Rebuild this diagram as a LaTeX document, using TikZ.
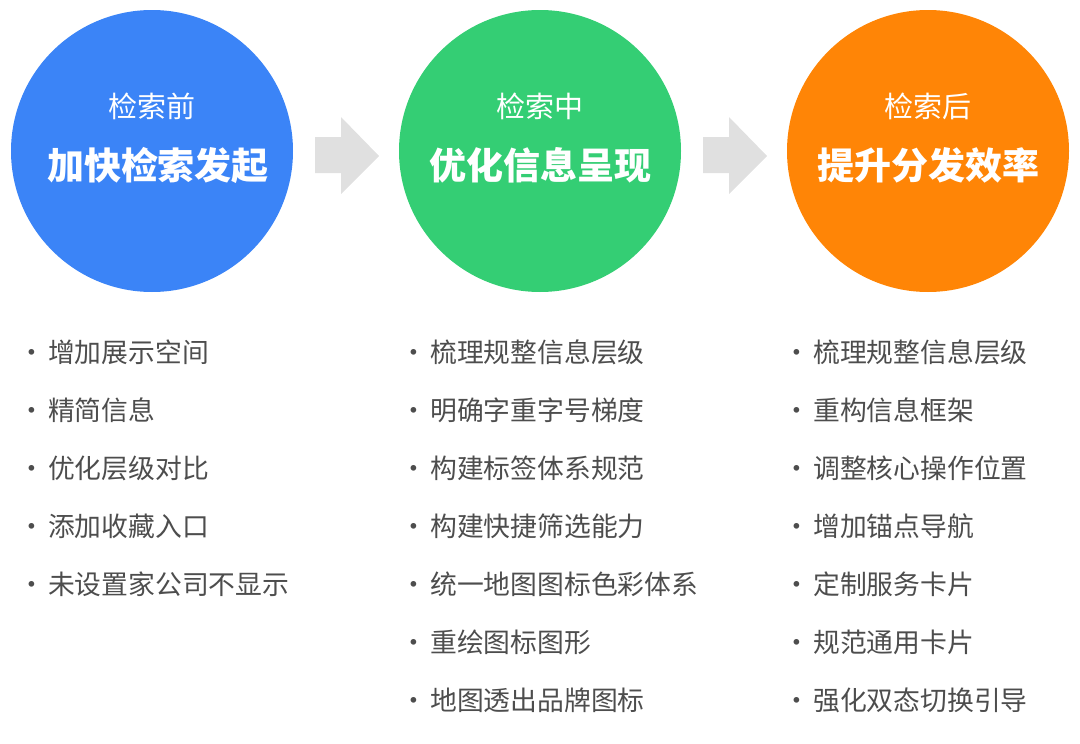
\documentclass[tikz,border=0pt]{standalone}
\usepackage{fontspec}
\setmainfont{Noto Sans CJK SC}
\usetikzlibrary{positioning}

\definecolor{stageblue}{HTML}{3B84F7}
\definecolor{stagegreen}{HTML}{34CE74}
\definecolor{stageorange}{HTML}{FF8506}
\definecolor{arrowgray}{HTML}{E0E0E0}
\definecolor{itemgray}{HTML}{4D4D4D}

\tikzset{
  stage/.style={circle, minimum size=282pt, inner sep=0pt},
  phase/.style={text=white, font=\fontsize{29}{29}\selectfont, inner sep=0pt},
  goal/.style={text=white, font=\fontsize{37}{37}\selectfont\bfseries, inner sep=0pt},
  item/.style={anchor=west, text=itemgray, font=\fontsize{26.8}{27}\selectfont, inner sep=0pt},
  flow/.style={fill=arrowgray, draw=none}
}
\newcommand{\dotitem}[1]{\makebox[32pt][c]{·}#1}

\begin{document}
\begin{tikzpicture}[x=1pt,y=-1pt]
  \useasboundingbox (0,0) rectangle (1080,744);

  % the three stages
  \node[stage, fill=stageblue] (before) at (152,151) {};
  \node[stage, fill=stagegreen] (during) at (540,151) {};
  \node[stage, fill=stageorange] (after) at (928,151) {};

  \node[phase] (before-t) at (152,106) {检索前};
  \node[goal] (before-g) at (158,165) {加快检索发起};
  \node[phase] (during-t) at (540,106) {检索中};
  \node[goal] (during-g) at (540,165) {优化信息呈现};
  \node[phase] (after-t) at (928,106) {检索后};
  \node[goal] (after-g) at (928,165) {提升分发效率};

  % arrows between stages
  \fill[flow] (315,137) -- (341,137) -- (341,117) -- (379,156) -- (341,194) -- (341,173) -- (315,173) -- cycle;
  \fill[flow] (703,137) -- (729,137) -- (729,117) -- (767,156) -- (729,194) -- (729,173) -- (703,173) -- cycle;

  % before
  \node[item] (b1) at (16,352) {\dotitem{增加展示空间}};
  \node[item] (b2) at (16,410) {\dotitem{精简信息}};
  \node[item] (b3) at (16,468) {\dotitem{优化层级对比}};
  \node[item] (b4) at (16,526) {\dotitem{添加收藏入口}};
  \node[item] (b5) at (16,584) {\dotitem{未设置家公司不显示}};

  % during
  \node[item] (d1) at (398,352) {\dotitem{梳理规整信息层级}};
  \node[item] (d2) at (398,410) {\dotitem{明确字重字号梯度}};
  \node[item] (d3) at (398,468) {\dotitem{构建标签体系规范}};
  \node[item] (d4) at (398,526) {\dotitem{构建快捷筛选能力}};
  \node[item] (d5) at (398,584) {\dotitem{统一地图图标色彩体系}};
  \node[item] (d6) at (398,642) {\dotitem{重绘图标图形}};
  \node[item] (d7) at (398,700) {\dotitem{地图透出品牌图标}};

  % after
  \node[item] (a1) at (781,352) {\dotitem{梳理规整信息层级}};
  \node[item] (a2) at (781,410) {\dotitem{重构信息框架}};
  \node[item] (a3) at (781,468) {\dotitem{调整核心操作位置}};
  \node[item] (a4) at (781,526) {\dotitem{增加锚点导航}};
  \node[item] (a5) at (781,584) {\dotitem{定制服务卡片}};
  \node[item] (a6) at (781,642) {\dotitem{规范通用卡片}};
  \node[item] (a7) at (781,700) {\dotitem{强化双态切换引导}};
\end{tikzpicture}
\end{document}
